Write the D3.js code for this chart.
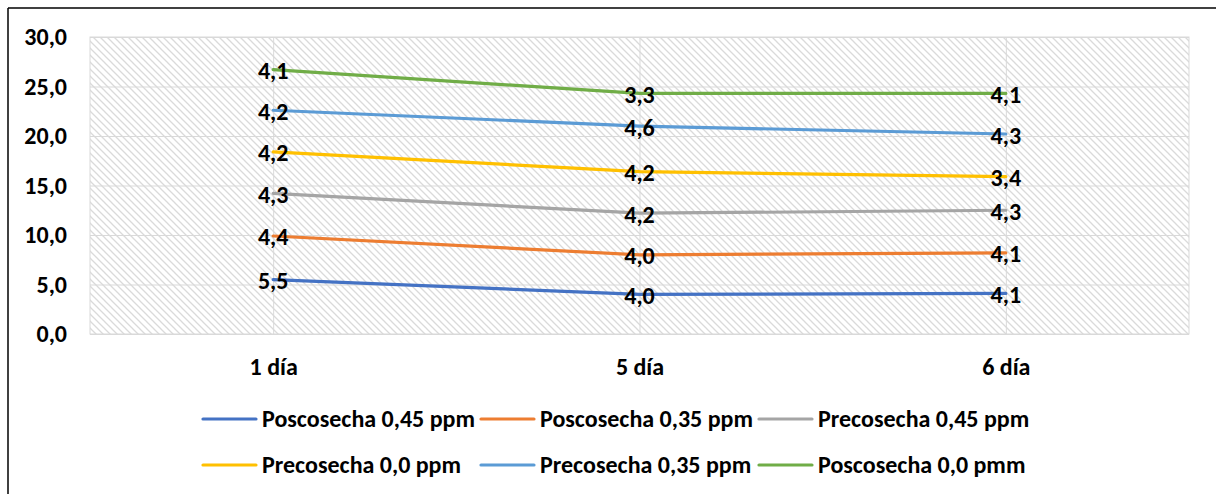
<!DOCTYPE html>
<html>
<head>
<meta charset="utf-8">
<script src="https://cdn.jsdelivr.net/npm/d3@7"></script>
<style>
  html, body { margin: 0; padding: 0; background: #fff; }
  svg { display: block; }
  text { font-family: Carlito, Calibri, Lato, sans-serif; font-weight: 700; fill: #000; }
</style>
</head>
<body>
<svg id="chart" width="1216" height="494"></svg>
<script>
// Categories (days) and per-series values; series are stacked on top of each other
const categories = ["1 día", "5 día", "6 día"];
const seriesNames = [
  "Poscosecha 0,45 ppm",
  "Poscosecha 0,35 ppm",
  "Precosecha 0,45 ppm",
  "Precosecha 0,0 ppm",
  "Precosecha 0,35 ppm",
  "Poscosecha 0,0 pmm"
];
const poscosecha045 = [5.5, 4.0, 4.1];
const poscosecha035 = [4.4, 4.0, 4.1];
const precosecha045 = [4.3, 4.2, 4.3];
const precosecha00  = [4.2, 4.2, 3.4];
const precosecha035 = [4.2, 4.6, 4.3];
const poscosecha00  = [4.1, 3.3, 4.1];
const seriesValues = [poscosecha045, poscosecha035, precosecha045, precosecha00, precosecha035, poscosecha00];
const yTicks = [0, 5, 10, 15, 20, 25, 30];
const colors = ["#4472C4", "#ED7D31", "#A5A5A5", "#FFC000", "#5B9BD5", "#70AD47"];

// Rows for d3.stack
const rows = categories.map((c, i) => {
  const r = { cat: c };
  seriesNames.forEach((s, k) => { r[s] = seriesValues[k][i]; });
  return r;
});
const stacked = d3.stack().keys(seriesNames)(rows);

const fmt = d3.formatLocale({ decimal: ",", thousands: ".", grouping: [3], currency: ["", ""] }).format(".1f");

const svg = d3.select("#chart");
const plot = { left: 90, right: 1189, top: 37, bottom: 334 };
const FS = 24;

const x = d3.scalePoint().domain(categories).range([plot.left, plot.right]).padding(0.5);
const y = d3.scaleLinear().domain([0, 30]).range([plot.bottom, plot.top]);

// Outer chart frame (top and left edges)
svg.append("line").attr("x1", 8).attr("x2", 1216).attr("y1", 8).attr("y2", 8)
  .attr("stroke", "#000").attr("stroke-width", 1.5);
svg.append("line").attr("x1", 8).attr("x2", 8).attr("y1", 8).attr("y2", 494)
  .attr("stroke", "#000").attr("stroke-width", 1.5);

// Diagonal hatch fill for the plot area
const defs = svg.append("defs");
const P = 7;
const pat = defs.append("pattern").attr("id", "hatch")
  .attr("patternUnits", "userSpaceOnUse").attr("width", P).attr("height", P);
pat.append("rect").attr("width", P).attr("height", P).attr("fill", "#fff");
pat.append("path").attr("d", `M-1,-1L${P + 1},${P + 1}M-1,${P - 1}L1,${P + 1}M${P - 1},-1L${P + 1},1`)
  .attr("stroke", "#dadada").attr("stroke-width", 1.3);

svg.append("rect")
  .attr("x", plot.left).attr("y", plot.top)
  .attr("width", plot.right - plot.left).attr("height", plot.bottom - plot.top)
  .attr("fill", "url(#hatch)").attr("stroke", "#d9d9d9").attr("stroke-width", 1);

// Horizontal gridlines + y labels
const yAxis = svg.append("g").attr("transform", `translate(${plot.left},0)`)
  .call(d3.axisLeft(y).tickValues(yTicks).tickSize(-(plot.right - plot.left)).tickPadding(23).tickFormat(fmt));
yAxis.select(".domain").remove();
yAxis.selectAll(".tick line").attr("stroke", "#d9d9d9").attr("stroke-width", 1);
yAxis.selectAll(".tick text").attr("font-size", FS).attr("dy", null).attr("y", 7.5)
  .style("font-family", "Carlito, Calibri, Lato, sans-serif").style("font-weight", 700);

// Vertical gridlines + category labels
const xAxis = svg.append("g").attr("transform", `translate(0,${plot.bottom})`)
  .call(d3.axisBottom(x).tickSize(-(plot.bottom - plot.top)).tickPadding(0));
xAxis.select(".domain").remove();
xAxis.selectAll(".tick line").attr("stroke", "#d9d9d9").attr("stroke-width", 1);
xAxis.selectAll(".tick text").attr("font-size", FS).attr("dy", null).attr("y", 41)
  .style("font-family", "Carlito, Calibri, Lato, sans-serif").style("font-weight", 700);

// Stacked lines
const line = d3.line().x((d, i) => x(categories[i])).y(d => y(d[1]));
svg.append("g").selectAll("path").data(stacked).join("path")
  .attr("d", s => line(s))
  .attr("fill", "none")
  .attr("stroke", (s, k) => colors[k])
  .attr("stroke-width", 3.2)
  .attr("stroke-linecap", "round")
  .attr("stroke-linejoin", "round");

// Data labels: each series' own value, placed at its stacked point
const labels = svg.append("g");
stacked.forEach((s, k) => {
  s.forEach((d, i) => {
    labels.append("text")
      .attr("x", x(categories[i]))
      .attr("y", y(d[1]) + 9.5)
      .attr("text-anchor", "middle")
      .attr("font-size", FS)
      .text(fmt(seriesValues[k][i]));
  });
});

// Legend, two rows of three
const legendCols = [203, 481, 759];
const legendRows = [419, 465];
const legend = svg.append("g");
seriesNames.forEach((name, k) => {
  const lx = legendCols[k % 3];
  const ly = legendRows[Math.floor(k / 3)];
  legend.append("line")
    .attr("x1", lx).attr("x2", lx + 53).attr("y1", ly).attr("y2", ly)
    .attr("stroke", colors[k]).attr("stroke-width", 3.2).attr("stroke-linecap", "round");
  legend.append("text")
    .attr("x", lx + 59).attr("y", ly + 8)
    .attr("font-size", FS)
    .text(name);
});
</script>
</body>
</html>
